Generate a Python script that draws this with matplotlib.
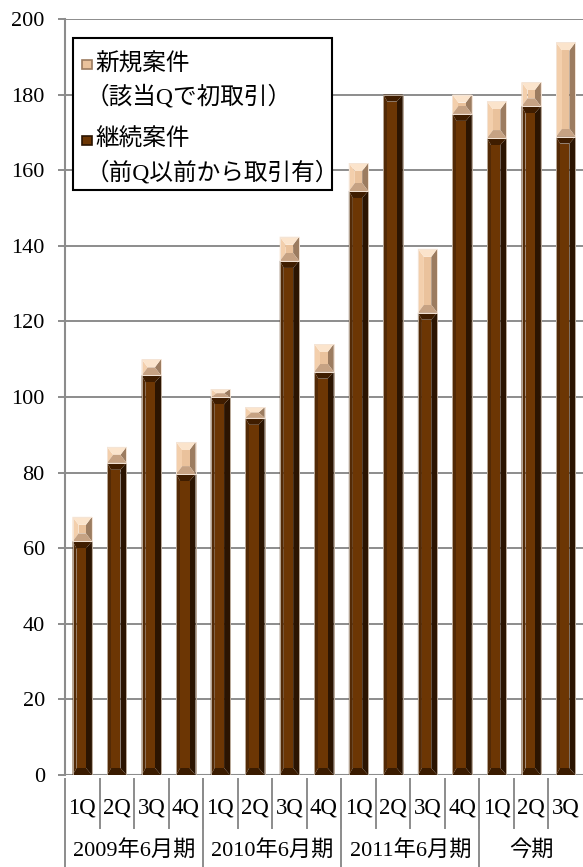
import numpy as np
import matplotlib.pyplot as plt
from matplotlib.patches import Polygon, Rectangle
from matplotlib.transforms import blended_transform_factory

plt.rcParams['font.family'] = ['Liberation Serif', 'Noto Sans CJK JP']

# quarterly deal counts
quarters = ['1Q', '2Q', '3Q', '4Q'] * 3 + ['1Q', '2Q', '3Q']
periods = ['2009年6月期', '2010年6月期', '2011年6月期', '今期']
period_sizes = [4, 4, 4, 3]
continuing = [61.8, 82.6, 105.7, 79.6, 99.9, 94.5, 136.0, 106.7,
              154.5, 180.0, 122.3, 174.9, 168.5, 176.9, 168.9]
new = [6.5, 4.2, 4.3, 8.5, 2.2, 2.8, 6.4, 7.3,
       7.4, 0.0, 16.9, 5.1, 9.7, 6.4, 24.9]

W, H = 583, 867
GRAY = '#8c8c8c'

fig = plt.figure(figsize=(W / 100, H / 100), dpi=100)
ax = fig.add_axes([65 / W, 1 - 775 / H, 518 / W, 756 / H])
ax.set_xlim(-0.5, 14.5)
ax.set_ylim(0, 200)

# pixel -> data unit helpers for the bevel size
px_x = 15 / 518
px_y = 200 / 756

brown = dict(top='#3f1d00', left='#532a06', face='#6c3604', right='#2b1401', bottom='#3a1b00')
peach = dict(top='#fbe4cc', left='#f3cfac', face='#eac29c', right='#9c7c60', bottom='#c6a283')


def bevel_bar(x, y0, y1, w, cols, bl, br, by, edge):
    h = y1 - y0
    if h <= 0:
        return
    x0, x1 = x - w / 2, x + w / 2
    by = min(by, h / 2)
    ix0, ix1 = x0 + bl, x1 - br
    iy0, iy1 = y0 + by, y1 - by
    facets = [
        ('left', [(x0, y0), (ix0, iy0), (ix0, iy1), (x0, y1)]),
        ('right', [(x1, y0), (ix1, iy0), (ix1, iy1), (x1, y1)]),
        ('top', [(x0, y1), (x1, y1), (ix1, iy1), (ix0, iy1)]),
        ('bottom', [(x0, y0), (x1, y0), (ix1, iy0), (ix0, iy0)]),
        ('face', [(ix0, iy0), (ix1, iy0), (ix1, iy1), (ix0, iy1)]),
    ]
    for name, pts in facets:
        ax.add_patch(Polygon(pts, closed=True, facecolor=cols[name],
                             edgecolor='none', zorder=3))
    ax.add_patch(Rectangle((x0, y0), w, h, facecolor='none', edgecolor=edge,
                           lw=0.7, zorder=4))


xs = np.arange(len(quarters))
bar_w = 0.56
for x, c, n in zip(xs, continuing, new):
    bevel_bar(x, 0, c, bar_w, brown, 4 * px_x, 6 * px_x, 7 * px_y, '#b8a898')
    bevel_bar(x, c, c + n, bar_w, peach, 6 * px_x, 6 * px_x, 8 * px_y, '#f4e4d6')

# axes styling
for s in ['top', 'right', 'bottom']:
    ax.spines[s].set_visible(False)
ax.spines['left'].set_color(GRAY)
ax.spines['left'].set_linewidth(1.5)
ax.set_yticks(np.arange(0, 201, 20))
ax.yaxis.grid(True, color=GRAY, lw=1.4)
ax.set_axisbelow(True)
ax.tick_params(axis='y', length=5, width=1.4, color=GRAY, pad=9.5,
               labelsize=16)
ax.set_xticks([])
ax.axhline(0, color=GRAY, lw=1.5, zorder=2)

# two-row category axis
tr = blended_transform_factory(ax.transData, ax.transAxes)
q_top, q_bot, g_bot = -4 / 756, -53 / 756, -95 / 756
for i, q in enumerate(quarters):
    ax.text(i, -33 / 756, q, transform=tr, ha='center', va='center',
            fontsize=16.5, clip_on=False)
    if i > 0:
        ax.plot([i - 0.5, i - 0.5], [q_top, q_bot], transform=tr,
                color=GRAY, lw=1.4, clip_on=False)
start = 0
for p, size in zip(periods, period_sizes):
    ax.text(start + (size - 1) / 2, -75 / 756, p, transform=tr, ha='center',
            va='center', fontsize=16, clip_on=False)
    ax.plot([start - 0.5, start - 0.5], [q_top, g_bot], transform=tr,
            color=GRAY, lw=1.4, clip_on=False)
    start += size

# legend box
def fx(px):
    return px / W


def fy(py):
    return 1 - py / H


fig.patches.append(Rectangle((fx(73), fy(190)), fx(332) - fx(73), fy(38) - fy(190),
                             transform=fig.transFigure, facecolor='white',
                             edgecolor='black', lw=1.5, zorder=10))
legend_rows = [
    (peach, '新規案件', '（該当Qで初取引）', 64),
    (brown, '継続案件', '（前Q以前から取引有）', 140),
]
for cols, head, sub, py in legend_rows:
    fig.patches.append(Rectangle((fx(82), fy(py + 5)), fx(10), 9 / H,
                                 transform=fig.transFigure, facecolor=cols['face'],
                                 edgecolor=cols['right'], lw=1.2, zorder=11))
    fig.text(fx(95), fy(py), head, ha='left', va='center', fontsize=17, zorder=12)
    fig.text(fx(86), fy(py + 33), sub, ha='left', va='center', fontsize=17, zorder=12)

fig.savefig('out.png', dpi=100)
